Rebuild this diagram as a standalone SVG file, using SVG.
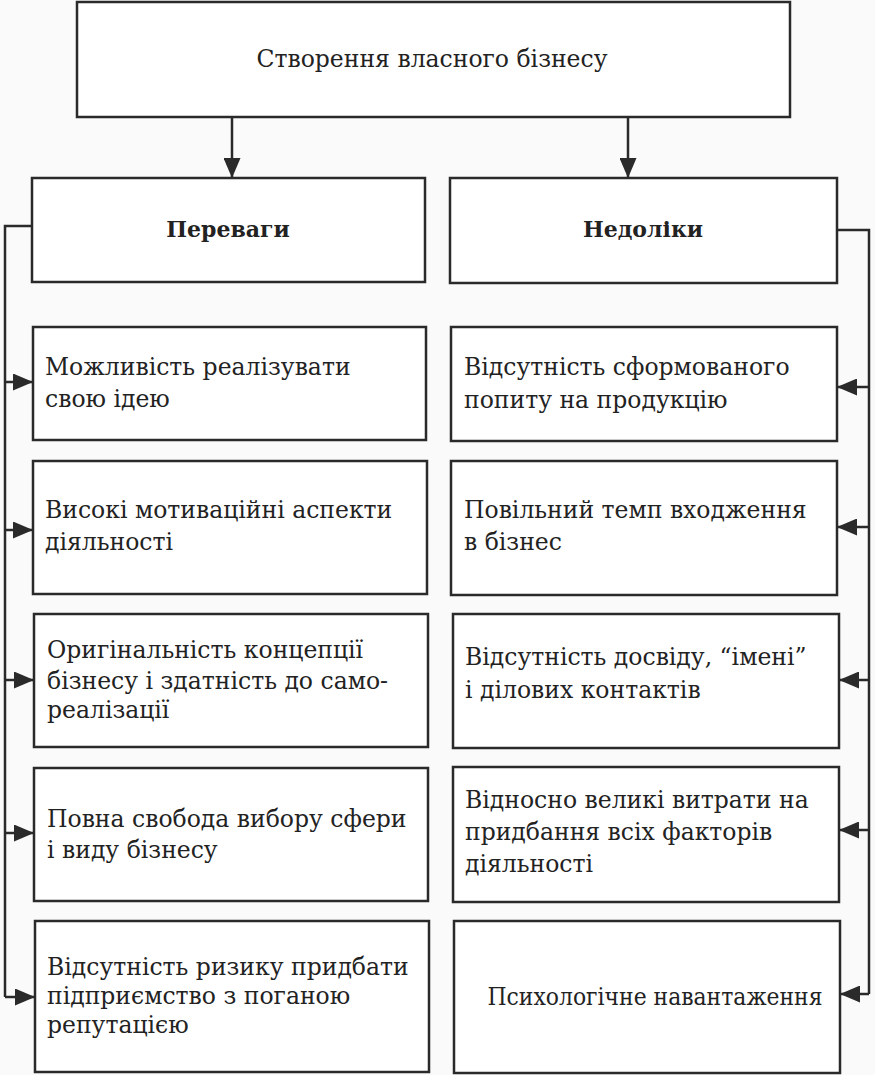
<svg xmlns="http://www.w3.org/2000/svg" width="875" height="1075" viewBox="0 0 875 1075">
<style>
.box{fill:#ffffff;stroke:#2a2a2a;stroke-width:2.5}
.t{font-family:"DejaVu Serif","Liberation Serif",serif;font-size:23.5px;fill:#222222}
.h{font-size:22px;font-weight:bold}
.c{text-anchor:middle}
.ln{fill:none;stroke:#2a2a2a;stroke-width:2.5}
</style>
<defs>
<marker id="ah" viewBox="0 0 20 17" refX="20" refY="8.5" markerWidth="20" markerHeight="17" markerUnits="userSpaceOnUse" orient="auto">
<path d="M0,0 L20,8.5 L0,17 Z" fill="#2a2a2a"/>
</marker>
</defs>
<rect width="875" height="1075" fill="#fafafa"/>
<g id="connectors">
<line class="ln" x1="232" y1="117" x2="232" y2="178" marker-end="url(#ah)"/>
<line class="ln" x1="628" y1="117" x2="628" y2="178" marker-end="url(#ah)"/>
<polyline class="ln" points="32,226 5,226 5,997"/>
<line class="ln" x1="5" y1="382" x2="33" y2="382" marker-end="url(#ah)"/>
<line class="ln" x1="5" y1="530" x2="33" y2="530" marker-end="url(#ah)"/>
<line class="ln" x1="5" y1="680" x2="34" y2="680" marker-end="url(#ah)"/>
<line class="ln" x1="5" y1="833" x2="34" y2="833" marker-end="url(#ah)"/>
<line class="ln" x1="5" y1="997" x2="35" y2="997" marker-end="url(#ah)"/>
<polyline class="ln" points="837,230 869,230 869,994"/>
<line class="ln" x1="869" y1="387" x2="837" y2="387" marker-end="url(#ah)"/>
<line class="ln" x1="869" y1="527" x2="837" y2="527" marker-end="url(#ah)"/>
<line class="ln" x1="869" y1="680" x2="839" y2="680" marker-end="url(#ah)"/>
<line class="ln" x1="869" y1="830" x2="839" y2="830" marker-end="url(#ah)"/>
<line class="ln" x1="869" y1="994" x2="840" y2="994" marker-end="url(#ah)"/>
</g>
<g id="root">
<rect class="box" x="77" y="2" width="713" height="115"/>
<text class="t c" x="432" y="67">Створення власного бізнесу</text>
</g>
<g id="pros">
<rect class="box" x="32" y="178" width="393" height="104"/>
<text class="t h c" x="228" y="237">Переваги</text>
</g>
<g id="cons">
<rect class="box" x="450" y="178" width="387" height="105"/>
<text class="t h c" x="643" y="237">Недоліки</text>
</g>
<g id="pro1">
<rect class="box" x="33" y="327" width="393" height="113"/>
<text class="t" x="45" y="375">Можливість реалізувати</text>
<text class="t" x="45" y="407">свою ідею</text>
</g>
<g id="pro2">
<rect class="box" x="33" y="461" width="394" height="133"/>
<text class="t" x="45" y="518">Високі мотиваційні аспекти</text>
<text class="t" x="45" y="550">діяльності</text>
</g>
<g id="pro3">
<rect class="box" x="34" y="614" width="394" height="133"/>
<text class="t" x="47" y="658">Оригінальність концепції</text>
<text class="t" x="47" y="689">бізнесу і здатність до само-</text>
<text class="t" x="47" y="718">реалізації</text>
</g>
<g id="pro4">
<rect class="box" x="34" y="768" width="394" height="133"/>
<text class="t" x="47" y="827">Повна свобода вибору сфери</text>
<text class="t" x="47" y="858">і виду бізнесу</text>
</g>
<g id="pro5">
<rect class="box" x="35" y="921" width="394" height="151"/>
<text class="t" x="47" y="975">Відсутність ризику придбати</text>
<text class="t" x="47" y="1004">підприємство з поганою</text>
<text class="t" x="47" y="1033">репутацією</text>
</g>
<g id="con1">
<rect class="box" x="451" y="327" width="386" height="114"/>
<text class="t" x="464" y="375">Відсутність сформованого</text>
<text class="t" x="464" y="408">попиту на продукцію</text>
</g>
<g id="con2">
<rect class="box" x="451" y="461" width="386" height="134"/>
<text class="t" x="464" y="518">Повільний темп входження</text>
<text class="t" x="464" y="550">в бізнес</text>
</g>
<g id="con3">
<rect class="box" x="453" y="614" width="386" height="134"/>
<text class="t" x="465" y="665">Відсутність досвіду, “імені”</text>
<text class="t" x="465" y="698">і ділових контактів</text>
</g>
<g id="con4">
<rect class="box" x="453" y="767" width="386" height="135"/>
<text class="t" x="465" y="808">Відносно великі витрати на</text>
<text class="t" x="465" y="840">придбання всіх факторів</text>
<text class="t" x="465" y="872">діяльності</text>
</g>
<g id="con5">
<rect class="box" x="454" y="921" width="386" height="152"/>
<text class="t c" x="655" y="1005" textLength="335" lengthAdjust="spacingAndGlyphs">Психологічне навантаження</text>
</g>
</svg>
